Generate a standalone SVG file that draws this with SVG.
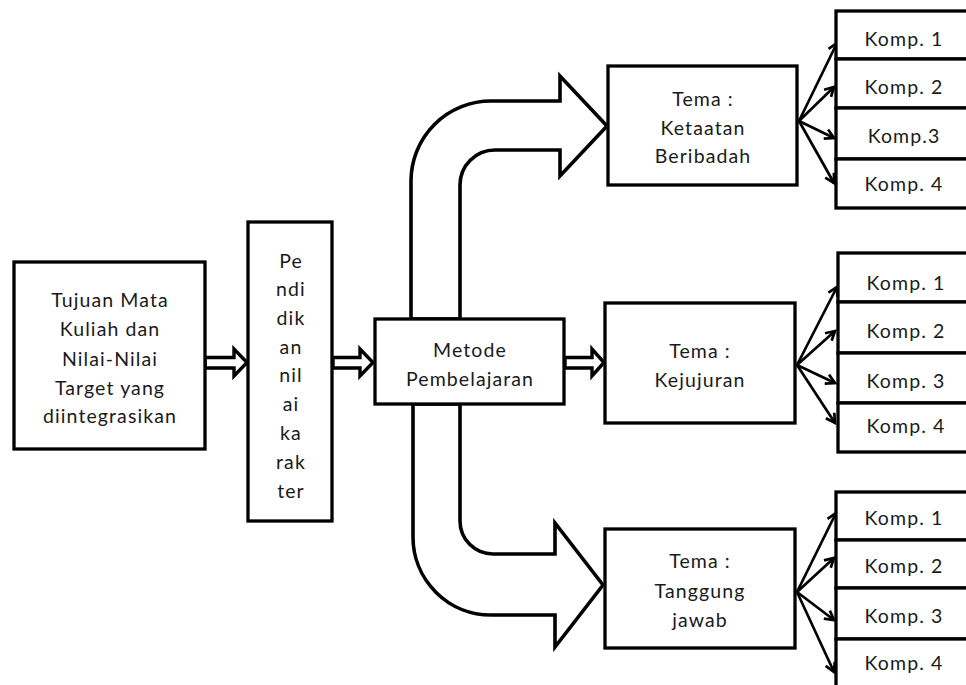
<svg xmlns="http://www.w3.org/2000/svg" width="966" height="685" viewBox="0 0 966 685">
<defs>
<style>
.box{fill:#fff;stroke:#000;stroke-width:3.3}
.big{fill:#fff;stroke:#000;stroke-width:3.6;stroke-linejoin:miter}
.dbl{fill:#fff;stroke:#000;stroke-width:3.4;stroke-linejoin:miter}
.fan{fill:none;stroke:#000;stroke-width:2.7;marker-end:url(#ah)}
text{font-family:Lato,"Liberation Sans",sans-serif;font-size:19.5px;letter-spacing:1.1px;fill:#1a1a1a;text-anchor:middle;dominant-baseline:central}
</style>
<marker id="ah" viewBox="0 0 12 12" refX="10" refY="6" markerWidth="12" markerHeight="12" markerUnits="userSpaceOnUse" orient="auto" overflow="visible">
<path d="M1,1 L10,6 L1,11" fill="none" stroke="#000" stroke-width="2.7"/>
</marker>
</defs>
<rect width="966" height="685" fill="#fff"/>
<g id="connectors">
<path class="big" d="M411,319 V181 A80,80 0 0 1 491,101 H560 V76 L607,126 L560,176 V150 H495 A35,35 0 0 0 460,185 V319 Z"/>
<path class="big" d="M460,404 V521 A33,33 0 0 0 493,554 H555 V523 L603,585 L555,647 V615 H491 A78,78 0 0 1 413,537 V404 Z"/>
<path class="dbl" d="M205,357.5 H234 V349 L247,362.5 L234,376 V368 H205 Z"/>
<path class="dbl" d="M333,357.5 H360 V349 L373,362.5 L360,376 V368 H333 Z"/>
<path class="dbl" d="M565,357.5 H592 V349 L604,362.5 L592,376 V368 H565 Z"/>
<path class="fan" d="M799,121 L837,43"/>
<path class="fan" d="M799,121 L834,87"/>
<path class="fan" d="M799,121 L834,138"/>
<path class="fan" d="M799,121 L834,183"/>
<path class="fan" d="M797,365 L837,287"/>
<path class="fan" d="M797,365 L835,331"/>
<path class="fan" d="M797,365 L835,383"/>
<path class="fan" d="M797,365 L835,423"/>
<path class="fan" d="M797,592 L836,513"/>
<path class="fan" d="M797,592 L834,558"/>
<path class="fan" d="M797,592 L834,620"/>
<path class="fan" d="M797,592 L834,672"/>
</g>
<g id="tujuan">
<rect class="box" x="14" y="262" width="191" height="187"/>
<text x="110" y="299">Tujuan Mata</text>
<text x="110" y="328">Kuliah dan</text>
<text x="110" y="358">Nilai-Nilai</text>
<text x="110" y="387">Target yang</text>
<text x="110" y="415">diintegrasikan</text>
</g>
<g id="pendidikan">
<rect class="box" x="248" y="222" width="84" height="299"/>
<text x="291" y="260">Pe</text>
<text x="291" y="288.7">ndi</text>
<text x="291" y="317.4">dik</text>
<text x="291" y="346">an</text>
<text x="291" y="374.8">nil</text>
<text x="291" y="403.5">ai</text>
<text x="291" y="432">ka</text>
<text x="291" y="461">rak</text>
<text x="291" y="490">ter</text>
</g>
<g id="metode">
<rect class="box" x="375" y="319" width="189" height="85"/>
<text x="470" y="349">Metode</text>
<text x="470" y="378">Pembelajaran</text>
</g>
<g id="tema1">
<rect class="box" x="608" y="66" width="189" height="119"/>
<text x="703" y="98">Tema :</text>
<text x="703" y="127">Ketaatan</text>
<text x="703" y="155">Beribadah</text>
</g>
<g id="tema2">
<rect class="box" x="605" y="303" width="190" height="120"/>
<text x="700" y="350">Tema :</text>
<text x="700" y="379">Kejujuran</text>
</g>
<g id="tema3">
<rect class="box" x="605" y="529" width="190" height="119"/>
<text x="700" y="560">Tema :</text>
<text x="700" y="590">Tanggung</text>
<text x="700" y="619">jawab</text>
</g>
<g id="komp-a">
<rect class="box" x="836" y="11" width="140" height="48"/>
<rect class="box" x="836" y="59" width="140" height="49"/>
<rect class="box" x="836" y="108" width="140" height="51"/>
<rect class="box" x="836" y="159" width="140" height="49"/>
<text x="904" y="38">Komp. 1</text>
<text x="904" y="86">Komp. 2</text>
<text x="904" y="135">Komp.3</text>
<text x="904" y="183">Komp. 4</text>
</g>
<g id="komp-b">
<rect class="box" x="838" y="253" width="140" height="49"/>
<rect class="box" x="838" y="302" width="140" height="51"/>
<rect class="box" x="838" y="353" width="140" height="50"/>
<rect class="box" x="838" y="403" width="140" height="49"/>
<text x="906" y="282">Komp. 1</text>
<text x="906" y="330">Komp. 2</text>
<text x="906" y="380">Komp. 3</text>
<text x="906" y="425">Komp. 4</text>
</g>
<g id="komp-c">
<rect class="box" x="836" y="492" width="140" height="48"/>
<rect class="box" x="836" y="540" width="140" height="48"/>
<rect class="box" x="836" y="588" width="140" height="51"/>
<rect class="box" x="836" y="639" width="140" height="48"/>
<text x="904" y="517">Komp. 1</text>
<text x="904" y="565">Komp. 2</text>
<text x="904" y="615">Komp. 3</text>
<text x="904" y="662">Komp. 4</text>
</g>
</svg>
